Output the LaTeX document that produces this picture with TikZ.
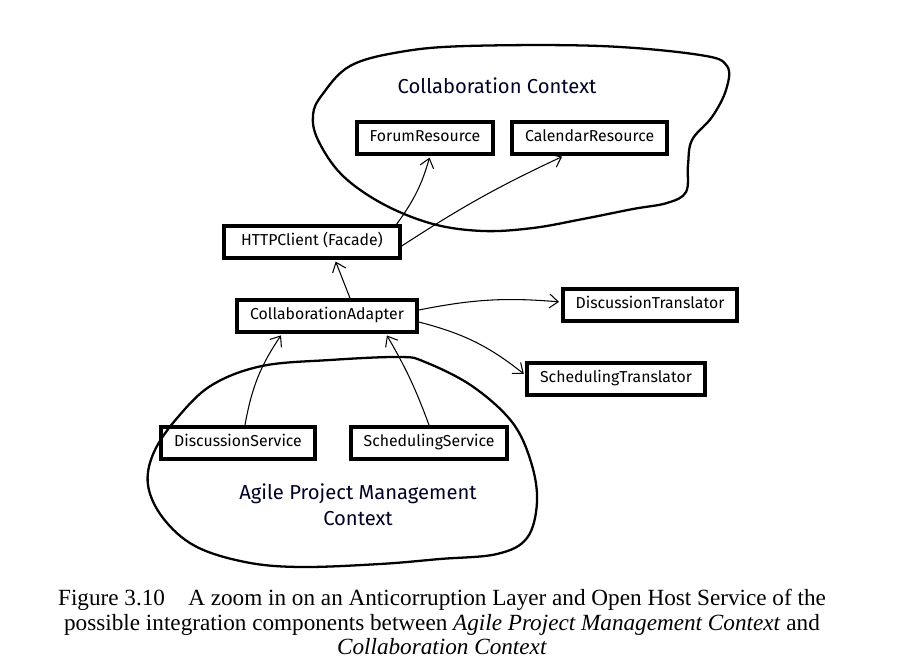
\documentclass[tikz,border=0pt]{standalone}
\usepackage{fontspec}
\setmainfont{Liberation Serif}
\newfontfamily\handfont{Fira Sans}
\usetikzlibrary{positioning,calc,arrows.meta}

\begin{document}
\begin{tikzpicture}[
      x=0.02cm, y=-0.02cm,
      >={Straight Barb[length=5pt,width=8pt]},
      every text node part/.style={align=center},
      component/.style={
        rectangle,
        draw,
        line width=2.2pt,
        minimum height=0.64cm,
        inner xsep=0.26cm,
        font=\handfont\fontsize{9}{11}\selectfont
      },
      contextlabel/.style={
        font=\handfont\fontsize{11.5}{15}\selectfont,
        text=black!85!blue
      },
      context/.style={line width=1.3pt},
      link/.style={->, line width=0.6pt, shorten >=1pt}
    ]
    \useasboundingbox (0,0) rectangle (900,662);

    % Collaboration Context
    \draw[context] plot[smooth cycle, tension=0.6] coordinates {
      (322,95) (350,66) (400,52) (467,46) (600,46) (700,55) (727,66)
      (726,90) (712,117) (692,140) (688,165) (686,192) (667,203)
      (633,209) (583,219) (533,228) (483,231) (433,224) (383,204)
      (342,175) (318,140) (313,115)};
    \node[contextlabel] (CollabLabel) at (497,86) {Collaboration Context};

    \node[component] (ForumResource) at (425,138) {\strut ForumResource};
    \node[component, right=0.3cm of ForumResource]
      (CalendarResource) {\strut CalendarResource};

    % Agile Project Management Context
    \draw[context] plot[smooth cycle, tension=0.6] coordinates {
      (212,385) (262,366) (330,360) (400,357) (425,362) (472,386)
      (512,422) (531,462) (537,502) (527,538) (497,554) (440,559)
      (380,564) (300,567) (245,562) (195,546) (163,518) (148,485)
      (154,452) (178,417)};
    \node[contextlabel] (AgileLabel) at (358,505)
      {Agile Project Management\\Context};

    \node[component] (DiscussionService) at (238,443) {\strut DiscussionService};
    \node[component, right=0.64cm of DiscussionService]
      (SchedulingService) {\strut SchedulingService};

    % layer between the two
    \node[component] (CollaborationAdapter) at (327,316)
      {\strut CollaborationAdapter};
    \node[component, inner xsep=0.34cm] (HTTPClient) at (312,242)
      {\strut HTTPClient (Facade)};
    \node[component] (DiscussionTranslator) at (650,305)
      {\strut DiscussionTranslator};
    \node[component] (SchedulingTranslator) at (616,379)
      {\strut SchedulingTranslator};

    \draw[link] ($(HTTPClient.north east)+(-5,0)$)
      to[bend right=10] ($(ForumResource.south)+(5,0)$);
    \draw[link] ($(HTTPClient.east)+(0,4)$)
      to[bend left=4] ($(CalendarResource.south)+(-26,0)$);
    \draw[link] ($(CollaborationAdapter.north)+(23,0)$)
      -- ($(HTTPClient.south)+(23,0)$);
    \draw[link] ($(CollaborationAdapter.east)+(0,-6)$)
      to[bend left=8] ($(DiscussionTranslator.west)+(0,-3)$);
    \draw[link] ($(CollaborationAdapter.east)+(0,6)$)
      to[bend left=12] ($(SchedulingTranslator.west)+(0,-4)$);
    \draw[link] ($(DiscussionService.north)+(7,0)$)
      to[bend left=12] ($(CollaborationAdapter.south)+(-45,0)$);
    \draw[link] ($(SchedulingService.north)+(0,0)$)
      to[bend right=5] ($(CollaborationAdapter.south)+(59,0)$);

    \node[font=\fontsize{13.2}{13.7}\selectfont] (Caption) at (442,622)
      {Figure 3.10\quad A zoom in on an Anticorruption Layer and Open Host Service of the\\
       possible integration components between \textit{Agile Project Management Context} and\\
       \textit{Collaboration Context}};
  \end{tikzpicture}
\end{document}
